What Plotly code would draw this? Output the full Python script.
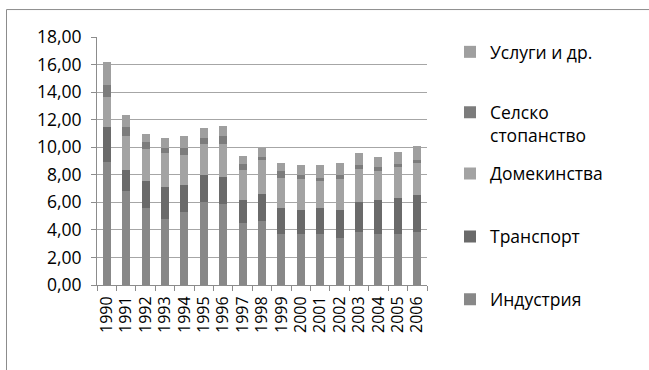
import plotly.graph_objects as go

years = [str(y) for y in range(1990, 2007)]

industria = [8.94, 6.81, 5.57, 4.76, 5.27, 6.01, 5.86, 4.48, 4.62, 3.69, 3.69, 3.69, 3.40, 3.84, 3.69, 3.69, 3.84]
transport = [2.53, 1.53, 1.97, 2.34, 1.97, 1.95, 1.97, 1.68, 1.97, 1.91, 1.76, 1.91, 2.05, 2.20, 2.50, 2.64, 2.71]
domakinstva = [2.19, 2.48, 2.33, 2.48, 2.19, 2.28, 2.41, 2.19, 2.49, 2.20, 2.28, 1.98, 2.28, 2.35, 2.05, 2.20, 2.28]
selsko = [0.88, 0.68, 0.51, 0.36, 0.51, 0.44, 0.59, 0.43, 0.21, 0.44, 0.22, 0.22, 0.22, 0.29, 0.29, 0.22, 0.22]
uslugi = [1.66, 0.87, 0.58, 0.73, 0.88, 0.73, 0.73, 0.59, 0.66, 0.59, 0.73, 0.88, 0.88, 0.88, 0.74, 0.88, 1.05]

series_names = ["Индустрия", "Транспорт", "Домекинства", "Селско<br>стопанство", "Услуги и др."]
series_values = [industria, transport, domakinstva, selsko, uslugi]
series_colors = ["#888888", "#6a6a6a", "#a3a3a3", "#7c7c7c", "#9f9f9f"]

y_tick_vals = [0, 2, 4, 6, 8, 10, 12, 14, 16, 18]
y_tick_text = ["0,00", "2,00", "4,00", "6,00", "8,00", "10,00", "12,00", "14,00", "16,00", "18,00"]

# plot area geometry (pixels)
W, H = 649, 370
L, R, T, B = 97, 427, 37, 285.5
pw, ph = R - L, B - T

legend_ids = ["legend", "legend2", "legend3", "legend4", "legend5"]
legend_centers_px = [300, 237, 174, 124, 52]  # Индустрия ... Услуги

fig = go.Figure()
for name, vals, col, lid in zip(series_names, series_values, series_colors, legend_ids):
    fig.add_trace(go.Bar(x=years, y=vals, name=name, marker=dict(color=col, line=dict(width=0)),
                         legend=lid))

font_fam = "Open Sans, Liberation Sans, Arial, sans-serif"
leg_left_px = 450
layout_legends = {}
for lid, cy in zip(legend_ids, legend_centers_px):
    layout_legends[lid] = dict(
        x=(leg_left_px - L) / pw, xanchor="left",
        y=(B - cy) / ph, yanchor="middle",
        font=dict(family=font_fam, size=17.5, color="#000000"),
        bgcolor="rgba(0,0,0,0)", borderwidth=0,
        itemwidth=30, valign="top",
    )

fig.update_layout(
    width=W, height=H,
    barmode="stack", bargap=0.59,
    margin=dict(l=L, r=W - R, t=T, b=H - B, pad=0),
    paper_bgcolor="white", plot_bgcolor="white",
    font=dict(family=font_fam, size=16, color="#000000"),
    showlegend=True,
    **layout_legends,
)

fig.update_yaxes(
    range=[0, 18], tickvals=y_tick_vals, ticktext=y_tick_text,
    showgrid=True, gridcolor="#a6a6a6", gridwidth=1,
    showline=True, linecolor="#8c8c8c", linewidth=1,
    ticks="outside", ticklen=5, tickcolor="#8c8c8c",
    ticklabelstandoff=6,
    zeroline=False, tickfont=dict(size=17.5),
)
fig.update_xaxes(
    type="category", tickangle=-90, tickmode="linear", dtick=1,
    showline=True, linecolor="#8c8c8c", linewidth=1,
    ticks="outside", ticklen=5, tickcolor="#8c8c8c", tickson="boundaries",
    ticklabelstandoff=4,
    showgrid=False, tickfont=dict(size=16),
)

# chart area border
fig.add_shape(type="rect", xref="paper", yref="paper",
              x0=(6.5 - L) / pw, x1=(700 - L) / pw,
              y0=(B - 400) / ph, y1=(B - 9.5) / ph,
              line=dict(color="#8c8c8c", width=1), fillcolor="rgba(0,0,0,0)", layer="below")

fig.write_html("out.html")
